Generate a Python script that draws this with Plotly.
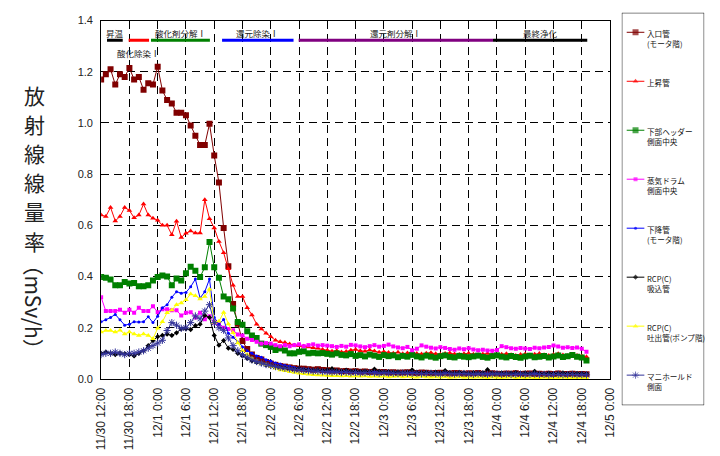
import plotly.graph_objects as go
import pandas as pd

W, H = 720, 456

# ---------------- data ----------------
times = pd.date_range("2009-11-30 12:00", periods=104, freq="h")

series_names = ["入口管<br>(モータ階)", "上昇管", "下部ヘッダー<br>側面中央", "蒸気ドラム<br>側面中央",
                "下降管<br>(モータ階)", "RCP(C)<br>吸込管", "RCP(C)<br>吐出管(ポンプ階)", "マニホールド<br>側面"]

inlet = [1.17, 1.19, 1.21, 1.15, 1.19, 1.18, 1.215, 1.17, 1.18, 1.13, 1.155, 1.15, 1.22, 1.127, 1.09, 1.076,
         1.04, 1.04, 1.03, 0.99, 0.95, 0.914, 0.914, 0.997, 0.873, 0.767, 0.59,
         0.44, 0.293, 0.216, 0.148, 0.117, 0.095, 0.082, 0.076, 0.066, 0.06, 0.055, 0.05, 0.048, 0.045, 0.042,
         0.04, 0.04, 0.038, 0.036, 0.038, 0.035,
         0.034, 0.032, 0.033, 0.030, 0.031, 0.029, 0.030, 0.028, 0.029, 0.027,
         0.028, 0.026, 0.027, 0.025, 0.026, 0.024, 0.025, 0.026, 0.024, 0.023,
         0.025, 0.024, 0.022, 0.023, 0.024, 0.022, 0.021, 0.023, 0.022, 0.020,
         0.022, 0.021, 0.023, 0.020, 0.021, 0.022, 0.020, 0.019, 0.021, 0.020,
         0.022, 0.019, 0.020, 0.021, 0.019, 0.020, 0.018, 0.020, 0.019, 0.021,
         0.018, 0.019, 0.020, 0.018, 0.019, 0.018]

riser = [0.64, 0.635, 0.67, 0.617, 0.635, 0.67, 0.658, 0.63, 0.64, 0.683, 0.64, 0.628, 0.62, 0.60, 0.60, 0.563,
         0.616, 0.553, 0.569, 0.578, 0.57, 0.57, 0.70, 0.626, 0.59,
         0.537, 0.493, 0.43, 0.366, 0.322, 0.322, 0.278, 0.25, 0.214, 0.195, 0.178, 0.165, 0.151, 0.145, 0.142,
         0.136, 0.132, 0.13, 0.128, 0.125, 0.122, 0.12, 0.115,
         0.112, 0.108, 0.110, 0.105, 0.107, 0.112, 0.115, 0.110, 0.108, 0.113,
         0.109, 0.104, 0.106, 0.103, 0.100, 0.104, 0.098, 0.101, 0.103, 0.099,
         0.097, 0.100, 0.102, 0.098, 0.096, 0.099, 0.101, 0.097, 0.095, 0.098,
         0.100, 0.096, 0.094, 0.097, 0.099, 0.095, 0.093, 0.096, 0.098, 0.094,
         0.092, 0.095, 0.097, 0.093, 0.096, 0.099, 0.094, 0.092, 0.095, 0.098,
         0.093, 0.091, 0.094, 0.092, 0.090, 0.087]

header = [0.398, 0.395, 0.388, 0.366, 0.366, 0.379, 0.373, 0.375, 0.362, 0.362, 0.366, 0.385, 0.398, 0.404,
          0.40, 0.366, 0.392, 0.385, 0.413, 0.438, 0.423, 0.398, 0.436, 0.535,
          0.436, 0.395, 0.322, 0.311, 0.275, 0.222, 0.212, 0.186, 0.17, 0.16, 0.138, 0.132, 0.125, 0.113, 0.119,
          0.111, 0.10, 0.10, 0.106, 0.108, 0.10, 0.102, 0.10, 0.101,
          0.098, 0.095, 0.100, 0.094, 0.092, 0.097, 0.090, 0.093, 0.088, 0.095,
          0.091, 0.086, 0.093, 0.089, 0.092, 0.085, 0.090, 0.087, 0.094, 0.088,
          0.084, 0.091, 0.087, 0.083, 0.089, 0.092, 0.086, 0.084, 0.090, 0.087,
          0.085, 0.088, 0.091, 0.086, 0.083, 0.089, 0.092, 0.087, 0.084, 0.090,
          0.086, 0.083, 0.088, 0.091, 0.085, 0.087, 0.090, 0.084, 0.088, 0.092,
          0.086, 0.089, 0.093, 0.087, 0.084, 0.072]

drum = [0.319, 0.265, 0.265, 0.265, 0.27, 0.259, 0.27, 0.259, 0.278, 0.265, 0.265, 0.284, 0.261, 0.272, 0.272,
        0.268, 0.268, 0.248, 0.259, 0.261, 0.24, 0.259, 0.233, 0.245,
        0.22, 0.214, 0.20, 0.195, 0.19, 0.174, 0.17, 0.157, 0.152, 0.145, 0.138, 0.14, 0.138, 0.132, 0.128,
        0.132, 0.128, 0.132, 0.135, 0.128, 0.132, 0.135, 0.13, 0.132,
        0.130, 0.128, 0.125, 0.129, 0.126, 0.133, 0.131, 0.127, 0.124, 0.128,
        0.132, 0.126, 0.129, 0.134, 0.127, 0.123, 0.120, 0.125, 0.112, 0.118,
        0.131, 0.126, 0.122, 0.119, 0.124, 0.121, 0.117, 0.114, 0.119, 0.116,
        0.120, 0.115, 0.112, 0.114, 0.111, 0.110, 0.113, 0.128, 0.124, 0.120,
        0.118, 0.121, 0.119, 0.117, 0.122, 0.120, 0.123, 0.125, 0.131, 0.127,
        0.122, 0.124, 0.121, 0.123, 0.118, 0.106]

downcomer = [0.223, 0.231, 0.24, 0.252, 0.231, 0.21, 0.214, 0.223, 0.222, 0.223, 0.243, 0.22, 0.245, 0.278,
             0.29, 0.319, 0.341, 0.335, 0.338, 0.36, 0.39, 0.316, 0.341, 0.39,
             0.24, 0.214, 0.232, 0.178, 0.163, 0.144, 0.125, 0.11, 0.10, 0.09, 0.085, 0.075, 0.07, 0.062, 0.058,
             0.052, 0.05, 0.045, 0.042, 0.04, 0.038, 0.035, 0.033, 0.032,
             0.031, 0.030, 0.029, 0.030, 0.028, 0.029, 0.027, 0.028, 0.026, 0.027,
             0.028, 0.026, 0.025, 0.027, 0.026, 0.024, 0.025, 0.026, 0.024, 0.025,
             0.023, 0.024, 0.025, 0.023, 0.022, 0.024, 0.023, 0.022, 0.023, 0.021,
             0.022, 0.023, 0.021, 0.022, 0.020, 0.021, 0.022, 0.020, 0.021, 0.022,
             0.020, 0.019, 0.021, 0.020, 0.022, 0.020, 0.019, 0.020, 0.021, 0.019,
             0.020, 0.018, 0.020, 0.019, 0.018, 0.019]

rcp_suction = [0.10, 0.105, 0.10, 0.095, 0.10, 0.098, 0.095, 0.09, 0.10, 0.11, 0.13, 0.15, 0.165, 0.17, 0.175,
               0.17, 0.18, 0.195, 0.195, 0.193, 0.208, 0.214, 0.248, 0.24,
               0.17, 0.132, 0.15, 0.12, 0.115, 0.10, 0.09, 0.08, 0.07, 0.065, 0.06, 0.055, 0.05, 0.048, 0.045,
               0.042, 0.04, 0.038, 0.04, 0.036, 0.035, 0.034, 0.035, 0.033,
               0.035, 0.040, 0.033, 0.031, 0.034, 0.030, 0.032, 0.029, 0.031, 0.028,
               0.038, 0.030, 0.027, 0.029, 0.026, 0.028, 0.025, 0.027, 0.035, 0.026,
               0.024, 0.026, 0.025, 0.027, 0.024, 0.033, 0.025, 0.023, 0.026, 0.024,
               0.022, 0.025, 0.023, 0.024, 0.036, 0.023, 0.021, 0.024, 0.022, 0.023,
               0.025, 0.022, 0.024, 0.021, 0.030, 0.022, 0.020, 0.023, 0.021, 0.022,
               0.024, 0.021, 0.020, 0.022, 0.021, 0.020]

rcp_discharge = [0.183, 0.189, 0.189, 0.183, 0.19, 0.176, 0.183, 0.176, 0.17, 0.176, 0.17, 0.157, 0.198, 0.223,
                 0.259, 0.269, 0.29, 0.297, 0.309, 0.332, 0.325, 0.312, 0.322, 0.35,
                 0.22, 0.225, 0.26, 0.215, 0.18, 0.14, 0.11, 0.095, 0.08, 0.07, 0.06, 0.055, 0.048, 0.042, 0.035,
                 0.032, 0.028, 0.025, 0.022, 0.02, 0.018, 0.016, 0.015, 0.014,
                 0.013, 0.012, 0.012, 0.011, 0.012, 0.010, 0.011, 0.010, 0.011, 0.009,
                 0.010, 0.009, 0.010, 0.008, 0.009, 0.010, 0.008, 0.009, 0.008, 0.007,
                 0.009, 0.008, 0.007, 0.008, 0.007, 0.008, 0.006, 0.007, 0.008, 0.006,
                 0.007, 0.006, 0.007, 0.006, 0.005, 0.007, 0.006, 0.005, 0.006, 0.007,
                 0.005, 0.006, 0.005, 0.006, 0.005, 0.004, 0.006, 0.005, 0.004, 0.005,
                 0.006, 0.004, 0.005, 0.004, 0.005, 0.004]

manifold = [0.095, 0.10, 0.10, 0.105, 0.10, 0.095, 0.10, 0.10, 0.105, 0.11, 0.12, 0.13, 0.14, 0.151, 0.189,
            0.22, 0.21, 0.198, 0.20, 0.22, 0.246, 0.235, 0.265, 0.29,
            0.22, 0.2, 0.19, 0.16, 0.13, 0.11, 0.095, 0.085, 0.075, 0.068, 0.062, 0.056, 0.052, 0.048, 0.045,
            0.042, 0.04, 0.036, 0.035, 0.033, 0.032, 0.03, 0.03, 0.028,
            0.027, 0.026, 0.027, 0.025, 0.026, 0.024, 0.025, 0.023, 0.024, 0.025,
            0.023, 0.022, 0.024, 0.023, 0.022, 0.021, 0.023, 0.022, 0.021, 0.022,
            0.020, 0.021, 0.022, 0.020, 0.019, 0.021, 0.020, 0.019, 0.020, 0.021,
            0.019, 0.018, 0.020, 0.019, 0.018, 0.019, 0.020, 0.018, 0.019, 0.017,
            0.018, 0.019, 0.017, 0.018, 0.019, 0.017, 0.018, 0.016, 0.017, 0.018,
            0.016, 0.017, 0.018, 0.016, 0.017, 0.016]

tick_labels = ["11/30 12:00", "11/30 18:00", "12/1 0:00", "12/1 6:00", "12/1 12:00", "12/1 18:00",
               "12/2 0:00", "12/2 6:00", "12/2 12:00", "12/2 18:00", "12/3 0:00", "12/3 6:00",
               "12/3 12:00", "12/3 18:00", "12/4 0:00", "12/4 6:00", "12/4 12:00", "12/4 18:00", "12/5 0:00"]
tick_vals = pd.date_range("2009-11-30 12:00", "2009-12-05 00:00", freq="6h")

phase_names = ["昇温", "酸化除染Ⅰ", "酸化剤分解Ⅰ", "還元除染Ⅰ", "還元剤分解Ⅰ", "最終浄化"]
phase_start = ["2009-11-30 13:15", "2009-11-30 17:50", "2009-11-30 22:35",
               "2009-12-01 13:40", "2009-12-02 05:55", "2009-12-03 23:10"]
phase_end = ["2009-11-30 16:35", "2009-11-30 22:10", "2009-12-01 11:05",
             "2009-12-02 04:50", "2009-12-03 23:10", "2009-12-04 19:10"]
phase_colors = ["#000000", "#FF0000", "#008000", "#0000FF", "#800080", "#000000"]
phase_label_row = [0, 1, 0, 0, 0, 0]

y_title_chars = ["放", "射", "線", "線", "量", "率"]
y_title_unit = "（mSv/h）"

# ---------------- styles ----------------
values = [inlet, riser, header, drum, downcomer, rcp_suction, rcp_discharge, manifold]
colors = ["#800000", "#FF0000", "#008000", "#FF00FF", "#0000FF", "#000000", "#FFFF00", "#333399"]
symbols = ["square", "triangle-up", "square", "square", "circle", "diamond", "triangle-up", "asterisk-open"]
sizes = [6, 5, 6, 4, 3, 4, 5, 6]

JP = "Noto Sans CJK JP"
AR = "Liberation Sans, Arial"

fig = go.Figure()
for vals, c, s, sz in zip(values, colors, symbols, sizes):
    fig.add_trace(go.Scatter(
        x=times, y=vals, mode="lines+markers", showlegend=False,
        line=dict(color=c, width=1),
        marker=dict(color=c, symbol=s, size=sz, line=dict(color=c, width=1 if "asterisk" in s else 0)),
        xaxis="x", yaxis="y"))

# custom legend on an overlay axis
LEG_W, LEG_H = 84, 403
for i, (name, c, s, sz) in enumerate(zip(series_names, colors, symbols, sizes)):
    yy = 20 + 50.3 * i
    fig.add_trace(go.Scatter(
        x=[5, 14, 23], y=[yy, yy, yy], mode="lines+markers", showlegend=False, hoverinfo="skip",
        line=dict(color=c, width=1),
        marker=dict(color=c, symbol=s, size=[0, sz, 0], line=dict(color=c, width=1 if "asterisk" in s else 0)),
        xaxis="x2", yaxis="y2"))
    fig.add_annotation(x=24, y=yy - 6.5, xref="x2", yref="y2", text=name, showarrow=False,
                       xanchor="left", yanchor="top", align="left",
                       font=dict(family=JP, size=7.6, color="#111"))
fig.add_shape(type="rect", xref="x2", yref="y2", x0=0, x1=LEG_W, y0=0, y1=LEG_H,
              line=dict(color="#000", width=1), fillcolor="rgba(0,0,0,0)")

# phase bars
y_bar, y_lab_top, y_lab_bot = 1.323, 1.35, 1.272
for n, s0, s1, c, row in zip(phase_names, phase_start, phase_end, phase_colors, phase_label_row):
    fig.add_shape(type="line", xref="x", yref="y", x0=s0, x1=s1, y0=y_bar, y1=y_bar,
                  line=dict(color=c, width=3), layer="above")
    mid = pd.Timestamp(s0) + (pd.Timestamp(s1) - pd.Timestamp(s0)) / 2
    fig.add_annotation(x=mid, y=y_lab_top if row == 0 else y_lab_bot, xref="x", yref="y", text=n,
                       showarrow=False, xanchor="center", yanchor="middle",
                       font=dict(family=JP, size=8.5, color="#222"))

# y axis title (vertical Japanese text, one character per slot)
for k, ch in enumerate(y_title_chars):
    fig.add_annotation(x=28 / W, y=1 - (91 + 30 * k) / H, xref="paper", yref="paper", showarrow=False,
                       xanchor="center", yanchor="middle",
                       text=ch, font=dict(family=JP, size=21, color="#222"))
fig.add_annotation(x=28 / W, y=1 - 309 / H, xref="paper", yref="paper", showarrow=False, textangle=90,
                   xanchor="center", yanchor="middle",
                   text=y_title_unit, font=dict(family=JP, size=21, color="#222"))

grid = dict(showgrid=True, gridcolor="#000", gridwidth=1, griddash="8px,5px")
fig.update_layout(
    width=W, height=H, margin=dict(l=0, r=0, t=0, b=0),
    paper_bgcolor="white", plot_bgcolor="white",
    xaxis=dict(domain=[96 / W, 615 / W], type="date",
               range=[tick_vals[0], tick_vals[-1]], tickvals=tick_vals, ticktext=tick_labels,
               tickangle=-90, tickfont=dict(family=AR, size=12, color="#222"), ticklabelstandoff=3,
               showline=True, linecolor="#000", linewidth=1, mirror=True, ticks="", zeroline=False, **grid),
    yaxis=dict(domain=[73 / H, 441 / H], range=[0, 1.4], dtick=0.2, tickformat=".1f",
               tickfont=dict(family=AR, size=11, color="#222"), ticklabelstandoff=5,
               showline=True, linecolor="#000", linewidth=1, mirror=True, ticks="", zeroline=False, **grid),
    xaxis2=dict(domain=[627 / W, 711 / W], range=[0, LEG_W], visible=False, fixedrange=True, anchor="y2"),
    yaxis2=dict(domain=[46 / H, 449 / H], range=[LEG_H, 0], visible=False, fixedrange=True, anchor="x2"),
)

fig.write_html("out.html", config={"displayModeBar": False},
               post_script="document.body.style.margin='0';")
